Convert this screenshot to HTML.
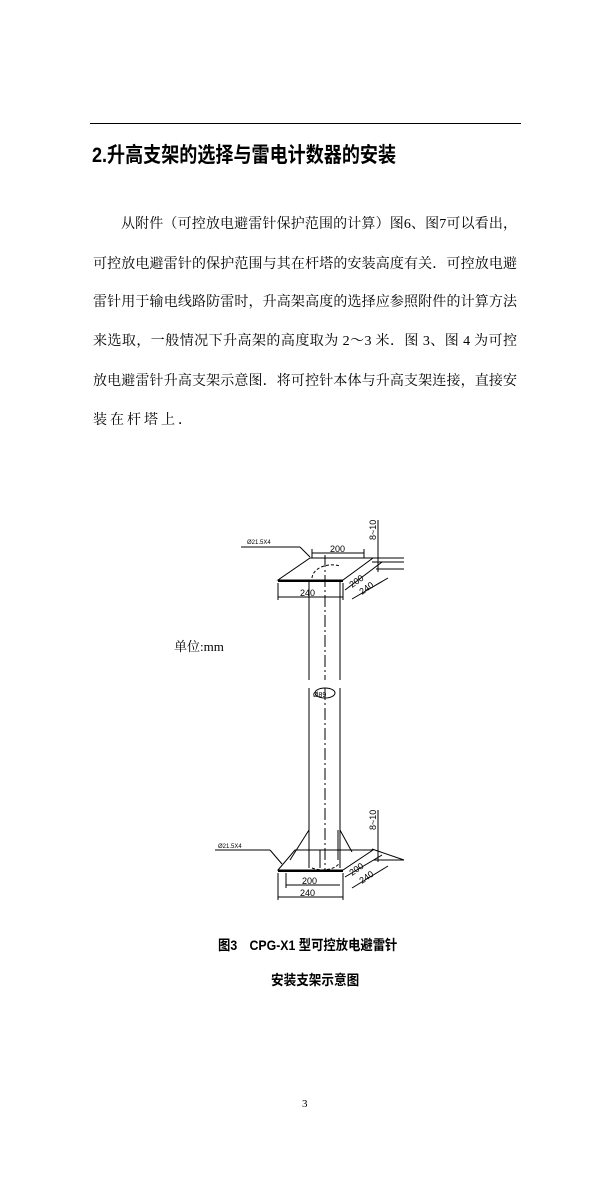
<!DOCTYPE html>
<html><head><meta charset="utf-8"><style>
body{margin:0;background:#fff;}
#p{position:relative;width:612px;height:1181px;background:#fff;overflow:hidden;font-family:"Liberation Serif","Noto Serif CJK SC","Noto Sans CJK SC",serif;color:#000;}
.l{position:absolute;left:93px;width:424px;font-size:14px;line-height:16px;text-align:justify;text-align-last:justify;white-space:nowrap;}
.h{position:absolute;left:92px;top:139px;font-size:21px;font-weight:bold;font-family:"Liberation Sans","Noto Sans CJK SC",sans-serif;transform:scaleX(0.86);transform-origin:0 0;white-space:nowrap;}
</style></head><body><div id="p">
<div style="position:absolute;left:90px;top:123px;width:431px;height:1px;background:#000"></div>
<div class="h">2.升高支架的选择与雷电计数器的安装</div>
<div class="l" style="top:217px;left:121px;width:396px">从附件（可控放电避雷针保护范围的计算）图6、图7可以看出，</div>
<div class="l" style="top:257px">可控放电避雷针的保护范围与其在杆塔的安装高度有关．可控放电避</div>
<div class="l" style="top:295px">雷针用于输电线路防雷时，升高架高度的选择应参照附件的计算方法</div>
<div class="l" style="top:334px">来选取，一般情况下升高架的高度取为 2～3 米．图 3、图 4 为可控</div>
<div class="l" style="top:374px">放电避雷针升高支架示意图．将可控针本体与升高支架连接，直接安</div>
<div class="l" style="top:413px;text-align-last:left;letter-spacing:3px">装在杆塔上．</div>
<div style="position:absolute;left:174px;top:636px;font-size:13px">单位:mm</div>
<svg width="612" height="1181" style="position:absolute;left:0;top:0" font-family="Liberation Sans, sans-serif">
<g stroke="#000" stroke-width="1" fill="none">
<polygon points="278,580 343,580 373,558 310,558"/>
<line x1="278" y1="581" x2="343" y2="581" stroke-width="2"/>
<path d="M312,578 A20,14 0 0 1 340,566" stroke-dasharray="3,2"/>
<line x1="309" y1="580" x2="309" y2="680"/><line x1="340" y1="580" x2="340" y2="680"/>
<line x1="325" y1="555" x2="325" y2="680" stroke-dasharray="12,3,2,3"/>
<line x1="309" y1="688" x2="309" y2="868"/><line x1="340" y1="688" x2="340" y2="868"/>
<line x1="325" y1="688" x2="325" y2="872" stroke-dasharray="12,3,2,3"/>
<ellipse cx="325" cy="693" rx="10" ry="5"/>
<line x1="312" y1="553" x2="364" y2="553"/><line x1="312" y1="549" x2="312" y2="558"/><line x1="364" y1="549" x2="364" y2="558"/>
<line x1="278" y1="583" x2="278" y2="600"/><line x1="343" y1="583" x2="343" y2="600"/><line x1="278" y1="597" x2="343" y2="597"/>
<line x1="241" y1="547" x2="300" y2="547"/><line x1="300" y1="547" x2="310" y2="557"/>
<line x1="378" y1="520" x2="378" y2="572"/><line x1="372" y1="558" x2="404" y2="558"/><line x1="372" y1="562" x2="404" y2="562"/><line x1="376" y1="569" x2="404" y2="569"/>
<line x1="345" y1="590" x2="382" y2="562"/><line x1="352" y1="599" x2="388" y2="578"/>
<polygon points="278,870 343,870 373,850 295,850"/>
<line x1="278" y1="871" x2="343" y2="871" stroke-width="2"/>
<line x1="309" y1="830" x2="290" y2="860"/><line x1="340" y1="830" x2="352" y2="852"/>
<line x1="338" y1="830" x2="338" y2="860"/><line x1="320" y1="850" x2="320" y2="868"/>
<path d="M312,868 A18,10 0 0 0 340,862" stroke-dasharray="3,2"/>
<line x1="286" y1="885" x2="340" y2="885"/><line x1="278" y1="897" x2="343" y2="897"/>
<line x1="278" y1="873" x2="278" y2="900"/><line x1="343" y1="873" x2="343" y2="900"/><line x1="286" y1="873" x2="286" y2="888"/>
<line x1="215" y1="850" x2="270" y2="850"/><line x1="270" y1="850" x2="282" y2="864"/>
<line x1="378" y1="810" x2="378" y2="862"/><line x1="372" y1="849" x2="404" y2="860"/><line x1="374" y1="860" x2="404" y2="860"/>
<line x1="345" y1="877" x2="382" y2="855"/><line x1="352" y1="888" x2="388" y2="866"/>
</g>
<g font-size="9" fill="#000">
<text x="330" y="552">200</text><text x="300" y="596">240</text>
<text x="247" y="544" font-size="6">Ø21.5X4</text>
<text x="218" y="848" font-size="6">Ø21.5X4</text>
<text x="302" y="884">200</text><text x="300" y="896">240</text>
<text x="313" y="697" font-size="7">Ø89</text>
<text transform="translate(376,540) rotate(-90)">8~10</text>
<text transform="translate(376,830) rotate(-90)">8~10</text>
<text transform="translate(352,588) rotate(-35)">200</text>
<text transform="translate(362,595) rotate(-35)">240</text>
<text transform="translate(352,876) rotate(-35)">200</text>
<text transform="translate(362,884) rotate(-35)">240</text>
</g>
</svg>
<div style="position:absolute;left:218px;top:935px;font-size:14px;font-weight:bold;font-family:'Liberation Sans','Noto Sans CJK SC',sans-serif;transform:scaleX(0.88);transform-origin:0 0;white-space:nowrap">图3　CPG-X1 型可控放电避雷针</div>
<div style="position:absolute;left:271px;top:970px;font-size:14px;font-weight:bold;font-family:'Liberation Sans','Noto Sans CJK SC',sans-serif;transform:scaleX(0.9);transform-origin:0 0;white-space:nowrap">安装支架示意图</div>
<div style="position:absolute;left:302px;top:1098px;font-size:11px">3</div>
</div></body></html>
